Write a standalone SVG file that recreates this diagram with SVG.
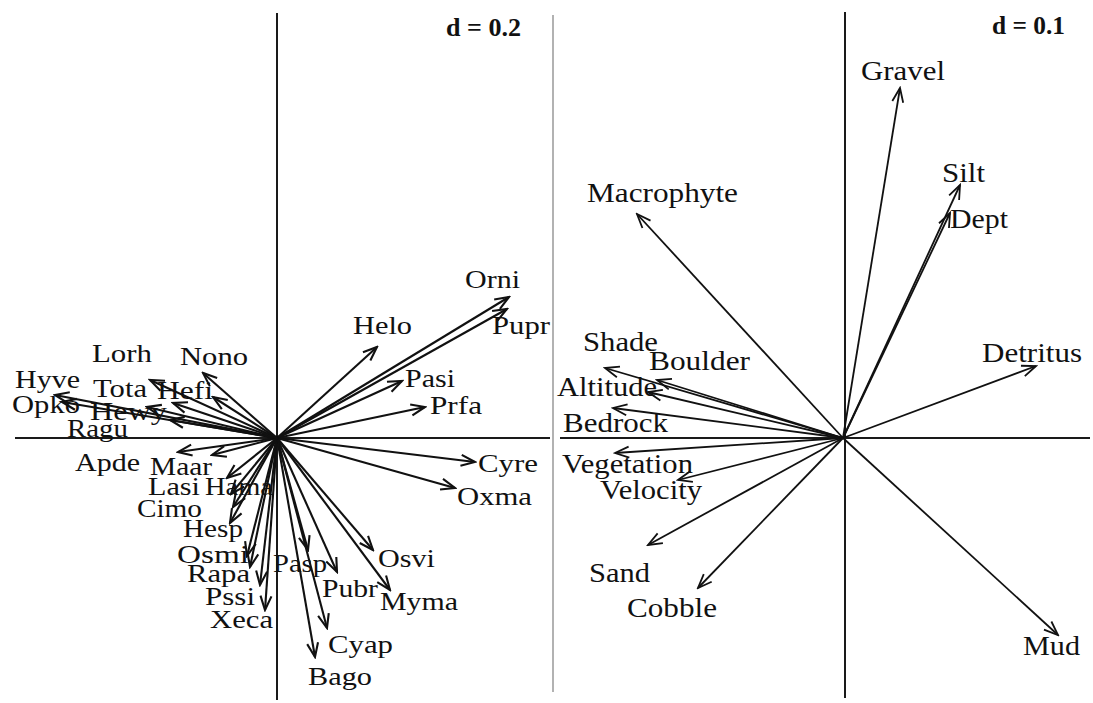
<svg xmlns="http://www.w3.org/2000/svg" width="1093" height="703" viewBox="0 0 1093 703">
<style>
.ax{stroke:#1a1a1a;stroke-width:2;fill:none}
.sep{stroke:#999;stroke-width:1.5;fill:none}
.ar{stroke:#111;stroke-width:2.1;fill:none;marker-end:url(#ah)}
.ar2{stroke:#111;stroke-width:1.8;fill:none;marker-end:url(#ah2)}
.l{font-family:"Liberation Serif","Times New Roman",serif;font-size:25px;fill:#111}
.r{font-family:"Liberation Serif","Times New Roman",serif;font-size:28px;fill:#111}
.d{font-family:"Liberation Serif","Times New Roman",serif;font-size:26px;font-weight:bold;fill:#111}
</style>
<defs>
<marker id="ah" markerUnits="userSpaceOnUse" markerWidth="18" markerHeight="14" viewBox="-16 -7 18 14" refX="0" refY="0" orient="auto">
<path d="M-14,-5.5 L0,0 L-14,5.5" fill="none" stroke="#111" stroke-width="2.1"/>
</marker>
<marker id="ah2" markerUnits="userSpaceOnUse" markerWidth="18" markerHeight="14" viewBox="-16 -7 18 14" refX="0" refY="0" orient="auto">
<path d="M-14,-5.5 L0,0 L-14,5.5" fill="none" stroke="#111" stroke-width="1.8"/>
</marker>
</defs>
<rect width="1093" height="703" fill="#fff"/>
<g id="axes">
<line class="ax" x1="277" y1="13" x2="277" y2="700"/>
<line class="ax" x1="15" y1="438" x2="550" y2="438"/>
<line class="sep" x1="553" y1="15" x2="553" y2="692"/>
<line class="ax" x1="845" y1="12" x2="845" y2="698"/>
<line class="ax" x1="560" y1="438" x2="1090" y2="438"/>
</g>
<g id="connectors">
<line class="ar" x1="277" y1="438" x2="509" y2="297"/>
<line class="ar" x1="277" y1="438" x2="507" y2="309"/>
<line class="ar" x1="277" y1="438" x2="377" y2="347"/>
<line class="ar" x1="277" y1="438" x2="402" y2="381"/>
<line class="ar" x1="277" y1="438" x2="425" y2="407"/>
<line class="ar" x1="277" y1="438" x2="475" y2="462"/>
<line class="ar" x1="277" y1="438" x2="455" y2="488"/>
<line class="ar" x1="277" y1="438" x2="373" y2="550"/>
<line class="ar" x1="277" y1="438" x2="390" y2="590"/>
<line class="ar" x1="277" y1="438" x2="337" y2="572"/>
<line class="ar" x1="277" y1="438" x2="308" y2="550"/>
<line class="ar" x1="277" y1="438" x2="327" y2="628"/>
<line class="ar" x1="277" y1="438" x2="315" y2="657"/>
<line class="ar" x1="277" y1="438" x2="265" y2="610"/>
<line class="ar" x1="277" y1="438" x2="260" y2="585"/>
<line class="ar" x1="277" y1="438" x2="250" y2="567"/>
<line class="ar" x1="277" y1="438" x2="247" y2="556"/>
<line class="ar" x1="277" y1="438" x2="230" y2="523"/>
<line class="ar" x1="277" y1="438" x2="233" y2="507"/>
<line class="ar" x1="277" y1="438" x2="231" y2="494"/>
<line class="ar" x1="277" y1="438" x2="227" y2="478"/>
<line class="ar" x1="277" y1="438" x2="212" y2="455"/>
<line class="ar" x1="277" y1="438" x2="178" y2="452"/>
<line class="ar" x1="277" y1="438" x2="170" y2="420"/>
<line class="ar" x1="277" y1="438" x2="147" y2="407"/>
<line class="ar" x1="277" y1="438" x2="62" y2="402"/>
<line class="ar" x1="277" y1="438" x2="55" y2="395"/>
<line class="ar" x1="277" y1="438" x2="150" y2="380"/>
<line class="ar" x1="277" y1="438" x2="173" y2="403"/>
<line class="ar" x1="277" y1="438" x2="213" y2="397"/>
<line class="ar" x1="277" y1="438" x2="203" y2="373"/>
<line class="ar2" x1="843" y1="438" x2="900" y2="88"/>
<line class="ar2" x1="843" y1="438" x2="960" y2="185"/>
<line class="ar2" x1="843" y1="438" x2="950" y2="213"/>
<line class="ar2" x1="843" y1="438" x2="1036" y2="366"/>
<line class="ar2" x1="843" y1="438" x2="1058" y2="635"/>
<line class="ar2" x1="843" y1="438" x2="637" y2="214"/>
<line class="ar2" x1="843" y1="438" x2="605" y2="368"/>
<line class="ar2" x1="843" y1="438" x2="657" y2="380"/>
<line class="ar2" x1="843" y1="438" x2="648" y2="392"/>
<line class="ar2" x1="843" y1="438" x2="613" y2="408"/>
<line class="ar2" x1="843" y1="438" x2="615" y2="453"/>
<line class="ar2" x1="843" y1="438" x2="678" y2="480"/>
<line class="ar2" x1="843" y1="438" x2="648" y2="545"/>
<line class="ar2" x1="843" y1="438" x2="698" y2="588"/>
</g>
<g id="scale-left"><text class="d" x="446" y="36" textLength="75" lengthAdjust="spacingAndGlyphs">d = 0.2</text></g>
<g id="scale-right"><text class="d" x="992" y="34" textLength="73" lengthAdjust="spacingAndGlyphs">d = 0.1</text></g>
<g id="n-Lorh"><text class="l" x="92" y="362" textLength="60" lengthAdjust="spacingAndGlyphs">Lorh</text></g>
<g id="n-Nono"><text class="l" x="180" y="365" textLength="68" lengthAdjust="spacingAndGlyphs">Nono</text></g>
<g id="n-Hyve"><text class="l" x="15" y="388" textLength="65" lengthAdjust="spacingAndGlyphs">Hyve</text></g>
<g id="n-Tota"><text class="l" x="93" y="397" textLength="54" lengthAdjust="spacingAndGlyphs">Tota</text></g>
<g id="n-Hefi"><text class="l" x="157" y="399" textLength="56" lengthAdjust="spacingAndGlyphs">Hefi</text></g>
<g id="n-Opko"><text class="l" x="12" y="413" textLength="68" lengthAdjust="spacingAndGlyphs">Opko</text></g>
<g id="n-Hewy"><text class="l" x="90" y="420" textLength="77" lengthAdjust="spacingAndGlyphs">Hewy</text></g>
<g id="n-Ragu"><text class="l" x="67" y="437" textLength="61" lengthAdjust="spacingAndGlyphs">Ragu</text></g>
<g id="n-Apde"><text class="l" x="75" y="471" textLength="65" lengthAdjust="spacingAndGlyphs">Apde</text></g>
<g id="n-Maar"><text class="l" x="150" y="475" textLength="62" lengthAdjust="spacingAndGlyphs">Maar</text></g>
<g id="n-Lasi"><text class="l" x="148" y="495" textLength="52" lengthAdjust="spacingAndGlyphs">Lasi</text></g>
<g id="n-Hama"><text class="l" x="205" y="495" textLength="68" lengthAdjust="spacingAndGlyphs">Hama</text></g>
<g id="n-Cimo"><text class="l" x="137" y="517" textLength="65" lengthAdjust="spacingAndGlyphs">Cimo</text></g>
<g id="n-Hesp"><text class="l" x="183" y="537" textLength="60" lengthAdjust="spacingAndGlyphs">Hesp</text></g>
<g id="n-Osmi"><text class="l" x="177" y="563" textLength="72" lengthAdjust="spacingAndGlyphs">Osmi</text></g>
<g id="n-Rapa"><text class="l" x="187" y="582" textLength="63" lengthAdjust="spacingAndGlyphs">Rapa</text></g>
<g id="n-Pssi"><text class="l" x="205" y="605" textLength="50" lengthAdjust="spacingAndGlyphs">Pssi</text></g>
<g id="n-Xeca"><text class="l" x="210" y="628" textLength="63" lengthAdjust="spacingAndGlyphs">Xeca</text></g>
<g id="n-Pasp"><text class="l" x="273" y="572" textLength="54" lengthAdjust="spacingAndGlyphs">Pasp</text></g>
<g id="n-Pubr"><text class="l" x="322" y="597" textLength="56" lengthAdjust="spacingAndGlyphs">Pubr</text></g>
<g id="n-Cyap"><text class="l" x="328" y="653" textLength="65" lengthAdjust="spacingAndGlyphs">Cyap</text></g>
<g id="n-Bago"><text class="l" x="308" y="685" textLength="64" lengthAdjust="spacingAndGlyphs">Bago</text></g>
<g id="n-Myma"><text class="l" x="380" y="610" textLength="78" lengthAdjust="spacingAndGlyphs">Myma</text></g>
<g id="n-Osvi"><text class="l" x="378" y="567" textLength="57" lengthAdjust="spacingAndGlyphs">Osvi</text></g>
<g id="n-Oxma"><text class="l" x="457" y="505" textLength="75" lengthAdjust="spacingAndGlyphs">Oxma</text></g>
<g id="n-Cyre"><text class="l" x="478" y="472" textLength="60" lengthAdjust="spacingAndGlyphs">Cyre</text></g>
<g id="n-Prfa"><text class="l" x="430" y="414" textLength="52" lengthAdjust="spacingAndGlyphs">Prfa</text></g>
<g id="n-Pasi"><text class="l" x="405" y="387" textLength="50" lengthAdjust="spacingAndGlyphs">Pasi</text></g>
<g id="n-Helo"><text class="l" x="353" y="334" textLength="59" lengthAdjust="spacingAndGlyphs">Helo</text></g>
<g id="n-Orni"><text class="l" x="465" y="288" textLength="55" lengthAdjust="spacingAndGlyphs">Orni</text></g>
<g id="n-Pupr"><text class="l" x="492" y="334" textLength="58" lengthAdjust="spacingAndGlyphs">Pupr</text></g>
<g id="n-Macrophyte"><text class="r" x="587" y="202" textLength="151" lengthAdjust="spacingAndGlyphs">Macrophyte</text></g>
<g id="n-Shade"><text class="r" x="583" y="351" textLength="75" lengthAdjust="spacingAndGlyphs">Shade</text></g>
<g id="n-Boulder"><text class="r" x="649" y="370" textLength="101" lengthAdjust="spacingAndGlyphs">Boulder</text></g>
<g id="n-Altitude"><text class="r" x="557" y="396" textLength="100" lengthAdjust="spacingAndGlyphs">Altitude</text></g>
<g id="n-Bedrock"><text class="r" x="563" y="432" textLength="105" lengthAdjust="spacingAndGlyphs">Bedrock</text></g>
<g id="n-Vegetation"><text class="r" x="562" y="473" textLength="131" lengthAdjust="spacingAndGlyphs">Vegetation</text></g>
<g id="n-Velocity"><text class="r" x="600" y="499" textLength="102" lengthAdjust="spacingAndGlyphs">Velocity</text></g>
<g id="n-Sand"><text class="r" x="589" y="582" textLength="61" lengthAdjust="spacingAndGlyphs">Sand</text></g>
<g id="n-Cobble"><text class="r" x="627" y="617" textLength="90" lengthAdjust="spacingAndGlyphs">Cobble</text></g>
<g id="n-Gravel"><text class="r" x="861" y="80" textLength="84" lengthAdjust="spacingAndGlyphs">Gravel</text></g>
<g id="n-Silt"><text class="r" x="942" y="182" textLength="43" lengthAdjust="spacingAndGlyphs">Silt</text></g>
<g id="n-Dept"><text class="r" x="950" y="228" textLength="58" lengthAdjust="spacingAndGlyphs">Dept</text></g>
<g id="n-Detritus"><text class="r" x="982" y="362" textLength="100" lengthAdjust="spacingAndGlyphs">Detritus</text></g>
<g id="n-Mud"><text class="r" x="1023" y="655" textLength="57" lengthAdjust="spacingAndGlyphs">Mud</text></g>
</svg>
